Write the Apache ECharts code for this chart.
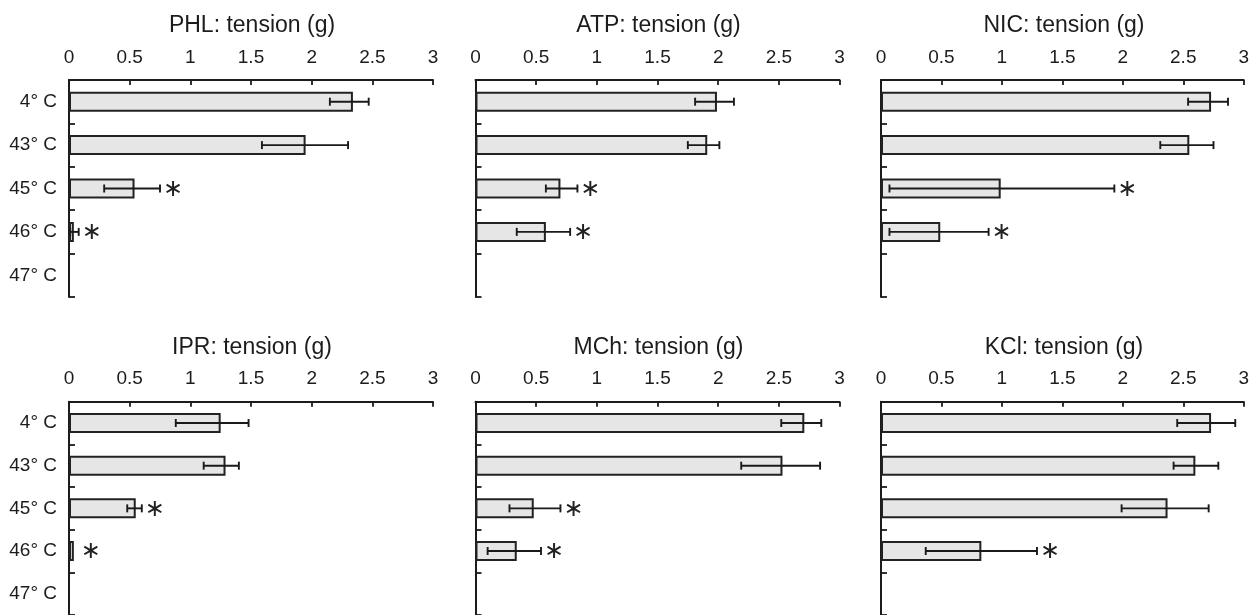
<!DOCTYPE html>
<html>
<head>
<meta charset="utf-8">
<script src="https://cdn.jsdelivr.net/npm/echarts@6/dist/echarts.min.js"></script>
<style>
html,body{margin:0;padding:0;background:#fff;}
#c{width:1252px;height:615px;}
</style>
</head>
<body>
<div id="c"></div>
<script>
// ---- data ----
const categories = ['4\u00b0 C', '43\u00b0 C', '45\u00b0 C', '46\u00b0 C', '47\u00b0 C'];
const xTicks = [0, 0.5, 1, 1.5, 2, 2.5, 3];
const titles = ['PHL: tension (g)', 'ATP: tension (g)', 'NIC: tension (g)',
                'IPR: tension (g)', 'MCh: tension (g)', 'KCl: tension (g)'];

const phlMean = [2.34, 1.95, 0.54, 0.04, null];
const phlLow  = [2.15, 1.59, 0.29, 0.01, null];
const phlHigh = [2.47, 2.30, 0.75, 0.08, null];
const phlSig  = [0, 0, 1, 1, 0];

const atpMean = [1.99, 1.91, 0.70, 0.58, null];
const atpLow  = [1.81, 1.75, 0.58, 0.34, null];
const atpHigh = [2.13, 2.01, 0.84, 0.78, null];
const atpSig  = [0, 0, 1, 1, 0];

const nicMean = [2.73, 2.55, 0.99, 0.49, null];
const nicLow  = [2.54, 2.31, 0.07, 0.07, null];
const nicHigh = [2.87, 2.75, 1.93, 0.89, null];
const nicSig  = [0, 0, 1, 1, 0];

const iprMean = [1.25, 1.29, 0.55, 0.04, null];
const iprLow  = [0.88, 1.11, 0.48, 0.04, null];
const iprHigh = [1.48, 1.40, 0.60, 0.04, null];
const iprSig  = [0, 0, 1, 1, 0];

const mchMean = [2.71, 2.53, 0.48, 0.34, null];
const mchLow  = [2.52, 2.19, 0.28, 0.10, null];
const mchHigh = [2.85, 2.84, 0.70, 0.54, null];
const mchSig  = [0, 0, 1, 1, 0];

const kclMean = [2.73, 2.60, 2.37, 0.83, null];
const kclLow  = [2.45, 2.42, 1.99, 0.37, null];
const kclHigh = [2.93, 2.79, 2.71, 1.29, null];
const kclSig  = [0, 0, 0, 1, 0];

const means = [phlMean, atpMean, nicMean, iprMean, mchMean, kclMean];
const lows  = [phlLow, atpLow, nicLow, iprLow, mchLow, kclLow];
const highs = [phlHigh, atpHigh, nicHigh, iprHigh, mchHigh, kclHigh];
const sigs  = [phlSig, atpSig, nicSig, iprSig, mchSig, kclSig];

// ---- layout ----
const FONT = '"Liberation Sans", Arial, Helvetica, sans-serif';
const TXT = '#1c1c1c';
const gridLefts = [69, 475.5, 881];
const gridTops = [80, 401.7];
const gridW = 364, gridH = 217;

const grid = [], xAxis = [], yAxis = [], series = [], title = [];
for (let p = 0; p < 6; p++) {
  const col = p % 3, row = Math.floor(p / 3);
  grid.push({left: gridLefts[col], top: gridTops[row], width: gridW, height: gridH});
  title.push({
    text: titles[p],
    left: gridLefts[col] + gridW / 2 - 4,
    top: gridTops[row] - 71,
    textAlign: 'center',
    textStyle: {fontFamily: FONT, fontSize: 23, fontWeight: 'normal', color: TXT, lineHeight: 24}
  });
  xAxis.push({
    type: 'value', gridIndex: p, position: 'top', min: xTicks[0], max: xTicks[xTicks.length - 1],
    interval: xTicks[1] - xTicks[0],
    axisLine: {show: true, lineStyle: {color: TXT, width: 2}},
    axisTick: {show: true, inside: true, length: 5, lineStyle: {color: TXT, width: 1.8}},
    axisLabel: {fontFamily: FONT, fontSize: 19, color: TXT, margin: 13},
    splitLine: {show: false}
  });
  yAxis.push({
    type: 'category', gridIndex: p, data: categories, inverse: true,
    axisLine: {show: true, lineStyle: {color: TXT, width: 2}},
    axisTick: {show: true, inside: true, length: 6, lineStyle: {color: TXT, width: 1.8}},
    axisLabel: {show: col === 0, fontFamily: FONT, fontSize: 19, color: TXT, margin: 12}
  });
  series.push({
    type: 'bar', xAxisIndex: p, yAxisIndex: p, data: means[p], barWidth: 20,
    itemStyle: {color: '#e6e6e6', borderColor: '#222', borderWidth: 2},
    silent: true, animation: false
  });
  const errData = [];
  for (let i = 0; i < categories.length; i++) {
    if (means[p][i] == null) continue;
    errData.push([lows[p][i], highs[p][i], i, sigs[p][i]]);
  }
  series.push({
    type: 'custom', xAxisIndex: p, yAxisIndex: p, data: errData, z: 5,
    encode: {x: [0, 1], y: 2}, animation: false, silent: true,
    renderItem: function (params, api) {
      const cat = api.value(2);
      const lo = api.coord([api.value(0), cat]);
      const hi = api.coord([api.value(1), cat]);
      const cap = 4;
      const st = {stroke: '#1a1a1a', lineWidth: 1.9};
      const children = [];
      if (hi[0] - lo[0] > 0.5) {
        children.push({type: 'line', shape: {x1: lo[0], y1: lo[1], x2: hi[0], y2: hi[1]}, style: st});
        children.push({type: 'line', shape: {x1: lo[0], y1: lo[1] - cap, x2: lo[0], y2: lo[1] + cap}, style: st});
        children.push({type: 'line', shape: {x1: hi[0], y1: hi[1] - cap, x2: hi[0], y2: hi[1] + cap}, style: st});
      }
      if (api.value(3)) {
        const off = (hi[0] - lo[0] > 0.5) ? 13 : 17;
        children.push({type: 'text', x: hi[0] + off, y: hi[1] + 1,
          style: {text: '\u2217', fontFamily: '"DejaVu Sans", sans-serif', fontSize: 24,
                  fill: '#222', align: 'center', verticalAlign: 'middle'}});
      }
      return {type: 'group', children: children};
    }
  });
}

const chart = echarts.init(document.getElementById('c'), null, {renderer: 'canvas'});
chart.setOption({
  animation: false,
  backgroundColor: '#fff',
  title: title, grid: grid, xAxis: xAxis, yAxis: yAxis, series: series
});
</script>
</body>
</html>
